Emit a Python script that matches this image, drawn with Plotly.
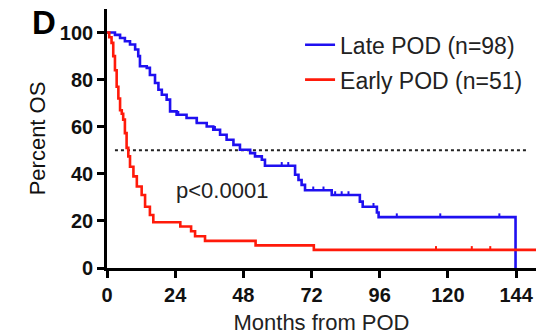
import plotly.graph_objects as go

# ---- data ----
late_t = [0, 2.8, 4.6, 6.3, 8.1, 9.9, 11.0, 11.6, 14.0, 15.1, 16.9, 18.1, 19.3, 21.0, 22.2,
          24.5, 28.0, 31.6, 35.1, 37.4, 39.8, 42.1, 44.5, 46.8, 50.4, 52.1, 54.5, 55.6,
          66.2, 67.4, 68.5, 69.7, 79.1, 89.0, 90.0, 95.0, 95.6, 143.8, 143.8]
late_s = [100, 99, 97.7, 96.3, 94.9, 92.8, 90, 85.7, 85, 82, 78.6, 75.7, 73.6, 71.5, 66.5,
          65.1, 63.7, 61.6, 60.1, 58.7, 56.6, 54.5, 52.3, 50.2, 48.8, 47.4, 46.0, 43.4,
          39.6, 37.4, 35.3, 33.0, 31.0, 28.2, 26.0, 23.6, 21.6, 21.6, 0]
late_cens_t = [25.1, 31.6, 38.0, 61.5, 63.8, 72.6, 76.2, 80.3, 82.6, 85.0, 93.8, 102.0, 117.3, 138.1]
late_cens_s = [65.1, 61.6, 58.7, 43.4, 43.4, 33.0, 33.0, 31.0, 31.0, 31.0, 26.0, 21.6, 21.6, 21.6]

early_t = [0, 0.8, 1.6, 2.2, 2.8, 3.4, 4.0, 4.6, 5.2, 5.7, 6.3, 6.9, 7.5, 8.1, 9.3, 10.5,
           12.2, 13.4, 15.1, 16.3, 25.8, 29.6, 31.0, 34.5, 52.3, 72.8, 151]
early_s = [100, 98, 95.6, 90, 84, 77, 72, 67, 65.5, 63, 57.3, 51, 47.4, 43, 38.9, 34.6,
           31, 26, 22.5, 19.4, 17.6, 15.6, 13.5, 11.5, 9.6, 7.7, 7.7]
early_cens_t = [115.8, 128.4, 134.9]
early_cens_s = [7.7, 7.7, 7.7]

x_ticks = [0, 24, 48, 72, 96, 120, 144]
y_ticks = [0, 20, 40, 60, 80, 100]
median_level = 50

BLUE = "#1f10f0"
RED = "#ff1a0a"
FONT = "Arial, 'Liberation Sans', sans-serif"


def tick_segments(ts, ss, h=1.6):
    xs, ys = [], []
    for t, s in zip(ts, ss):
        xs += [t, t, None]
        ys += [s, s + h, None]
    return xs, ys


fig = go.Figure()

# median dotted line
fig.add_trace(go.Scatter(x=[2.8, 148], y=[median_level, median_level], mode="lines",
                         line=dict(color="#222", width=2, dash="dot"),
                         showlegend=False, hoverinfo="skip"))

fig.add_trace(go.Scatter(x=late_t, y=late_s, mode="lines", line_shape="hv",
                         line=dict(color=BLUE, width=2.6), name="Late POD (n=98)",
                         legendgroup="a"))
cx, cy = tick_segments(late_cens_t, late_cens_s)
fig.add_trace(go.Scatter(x=cx, y=cy, mode="lines", line=dict(color=BLUE, width=2),
                         showlegend=False, legendgroup="a"))

fig.add_trace(go.Scatter(x=early_t, y=early_s, mode="lines", line_shape="hv",
                         line=dict(color=RED, width=2.6), name="Early POD (n=51)",
                         legendgroup="b"))
cx, cy = tick_segments(early_cens_t, early_cens_s)
fig.add_trace(go.Scatter(x=cx, y=cy, mode="lines", line=dict(color=RED, width=2),
                         showlegend=False, legendgroup="b"))

fig.update_layout(
    width=539, height=336,
    margin=dict(l=107, r=3, t=9, b=68),
    plot_bgcolor="white", paper_bgcolor="white",
    font=dict(family=FONT, color="#111"),
    legend=dict(x=0.45, y=0.945, xanchor="left", yanchor="top",
                font=dict(size=23, color="#222", family=FONT),
                bgcolor="rgba(0,0,0,0)", tracegroupgap=2, itemwidth=30),
    xaxis=dict(range=[0, 151], tickvals=x_ticks, showline=True, linewidth=2.6,
               linecolor="black", ticks="outside", ticklen=7, tickwidth=2.6,
               tickcolor="black", showgrid=False, zeroline=False,
               tickfont=dict(size=20, family=FONT, color="#111", weight="bold"),
               title=dict(text="Months from POD", font=dict(size=22, color="#222"), standoff=10)),
    yaxis=dict(range=[0, 110], tickvals=y_ticks, showline=True, linewidth=2.6,
               linecolor="black", ticks="outside", ticklen=7, tickwidth=2.6,
               tickcolor="black", showgrid=False, zeroline=False,
               tickfont=dict(size=20, family=FONT, color="#111", weight="bold"),
               title=dict(text="Percent OS", font=dict(size=22, color="#111"), standoff=9)),
    annotations=[
        dict(text="<b>D</b>", xref="paper", yref="paper", x=-0.148, y=0.946,
             xanchor="center", yanchor="middle", showarrow=False,
             font=dict(size=33, color="black", family=FONT)),
        dict(text="p<0.0001", xref="x", yref="y", x=23.5, y=33,
             xanchor="left", yanchor="middle", showarrow=False,
             font=dict(size=22, color="#222", family=FONT)),
    ],
)

fig.write_html("out.html")
